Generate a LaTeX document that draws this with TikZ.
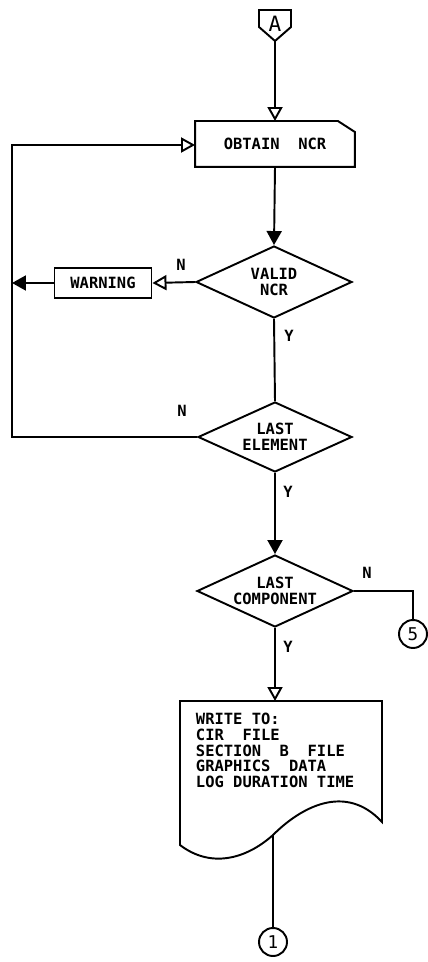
\documentclass[tikz,border=0pt]{standalone}
\usepackage{fontspec}
\setmainfont{DejaVu Sans Mono}
\usetikzlibrary{shapes, arrows.meta, calc}

\begin{document}
\begin{tikzpicture}[x=0.02cm, y=-0.02cm, line width=1.1pt,
    every node/.style={font=\bfseries\fontsize{8.8}{8.9}\selectfont},
    procbox/.style={rectangle, draw, minimum width=1.94cm, minimum height=0.6cm, inner sep=0pt},
    decision/.style={diamond, draw, shape aspect=2.17, minimum width=3.12cm, minimum height=1.44cm, inner sep=0pt, align=center},
    conn/.style={circle, draw, minimum size=0.56cm, inner sep=0pt, font=\fontsize{10}{10}\selectfont},
    hollow/.style={-{Triangle[open, length=0.28cm, width=0.3cm]}},
    solid/.style={-{Triangle[length=0.28cm, width=0.3cm]}},
    lbl/.style={inner sep=0pt}]
             \useasboundingbox (0,0) rectangle (428,962);
             % off page connector
             \node[inner sep=0pt, font=\fontsize{12}{12}\selectfont] (conA) at (275,24) {A};
             \coordinate (conAtip) at (275,41);
             \draw (conAtip) -- ++(-16,-14) -- ++(0,-17) -- ++(32,0) -- ++(0,17) -- cycle;
             % obtain ncr
             \node[minimum width=3.16cm, minimum height=0.88cm, inner sep=0pt] (obtain) at (275,144) {OBTAIN~~NCR};
             \draw (obtain.south west) -- (obtain.north west) -- ([xshift=-0.34cm]obtain.north east)
                   -- ([yshift=-0.22cm]obtain.north east) -- (obtain.south east) -- cycle;
             \draw [hollow](conAtip) -- (obtain.north);
             % checks
             \node[decision] (valid) at (274,282) {VALID\\NCR};
             \node[procbox] (warning) at (103,283) {WARNING};
             \node[decision, minimum width=3.08cm, minimum height=1.4cm] (lastel) at (275,437) {LAST\\ELEMENT};
             \node[decision] (lastcomp) at (275,591) {LAST\\COMPONENT};
             \draw [solid](obtain.south) -- (valid.north);
             \draw [hollow](valid.west) -- (warning.east);
             \coordinate (loopbot) at (12,437);
             \coordinate (looptop) at (12,145);
             \draw [solid](warning.west) -- (loopbot |- warning.west);
             \draw [hollow](lastel.west) -- (loopbot) -- (looptop) -- (obtain.west |- looptop);
             \draw (valid.south) -- (lastel.north);
             \draw [solid](lastel.south) -- (lastcomp.north);
             \node[conn] (con5) at (413,634) {5};
             \draw (lastcomp.east) -| (con5.north);
             \node[lbl] at (181,265) {N};
             \node[lbl] at (289,336) {Y};
             \node[lbl] at (182,411) {N};
             \node[lbl] at (288,492) {Y};
             \node[lbl] at (367,573) {N};
             \node[lbl] at (288,647) {Y};
             % output document
             \node[anchor=north west, inner sep=0pt, align=left, font=\bfseries\fontsize{8.8}{9}\selectfont] (doc) at (195,712)
                  {WRITE TO:\\CIR~~FILE\\SECTION~~B~~FILE\\GRAPHICS~~DATA\\LOG DURATION TIME};
             \coordinate (docin) at (275,701);
             \coordinate (docout) at (273,835);
             \draw (180,701) -- (382,701) -- (382,822) .. controls (345,782) and (300,808) .. (docout)
                   .. controls (245,860) and (210,868) .. (180,845) -- cycle;
             \draw [hollow](lastcomp.south) -- (docin);
             \node[conn] (con1) at (273,942) {1};
             \draw (docout) -- (con1.north);
         \end{tikzpicture}
\end{document}
